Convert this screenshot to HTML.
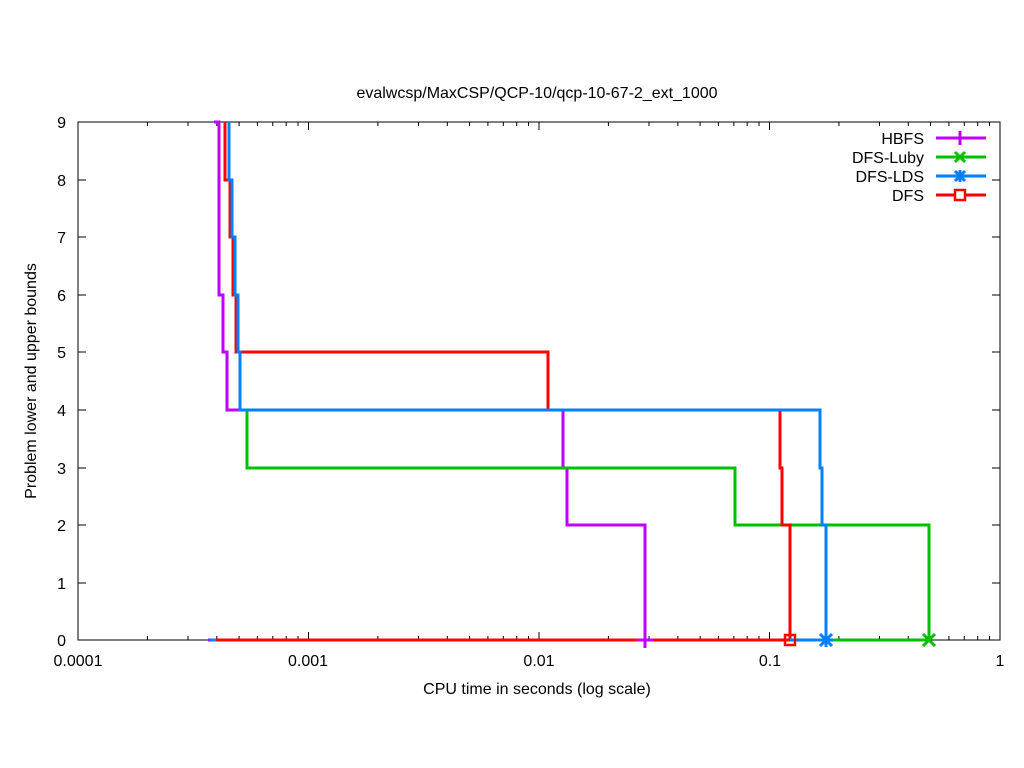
<!DOCTYPE html>
<html><head><style>body{margin:0;background:#fff}svg{display:block}</style></head><body>
<svg width="1024" height="768" xmlns="http://www.w3.org/2000/svg" font-family="Liberation Sans, sans-serif" font-size="16">
<rect width="1024" height="768" fill="#fff"/>
<g stroke="#000" stroke-width="1" fill="none">
<rect x="78" y="122" width="922" height="518"/>
<path d="
M78,640h8M1000,640h-8M78,583h8M1000,583h-8M78,525h8M1000,525h-8M78,468h8M1000,468h-8M78,410h8M1000,410h-8
M78,352h8M1000,352h-8M78,295h8M1000,295h-8M78,237h8M1000,237h-8M78,180h8M1000,180h-8M78,122h8M1000,122h-8
M78,640v-8M78,122v8M308.5,640v-8M308.5,122v8M539,640v-8M539,122v8M769.5,640v-8M769.5,122v8"/>
<path d="
M147.4,640v-4M188,640v-4M216.8,640v-4M239.1,640v-4M257.4,640v-4M272.8,640v-4M286.2,640v-4M298,640v-4
M377.9,640v-4M418.5,640v-4M447.3,640v-4M469.6,640v-4M487.9,640v-4M503.3,640v-4M516.7,640v-4M528.5,640v-4
M608.4,640v-4M649,640v-4M677.8,640v-4M700.1,640v-4M718.4,640v-4M733.8,640v-4M747.2,640v-4M759,640v-4
M838.9,640v-4M879.5,640v-4M908.3,640v-4M930.6,640v-4M948.9,640v-4M964.3,640v-4M977.7,640v-4M989.5,640v-4
M147.4,122v4M188,122v4M216.8,122v4M239.1,122v4M257.4,122v4M272.8,122v4M286.2,122v4M298,122v4
M377.9,122v4M418.5,122v4M447.3,122v4M469.6,122v4M487.9,122v4M503.3,122v4M516.7,122v4M528.5,122v4
M608.4,122v4M649,122v4M677.8,122v4M700.1,122v4M718.4,122v4M733.8,122v4M747.2,122v4M759,122v4
M838.9,122v4M879.5,122v4M908.3,122v4M930.6,122v4M948.9,122v4M964.3,122v4M977.7,122v4M989.5,122v4"/>
</g>
<g text-anchor="end">
<text x="66" y="646">0</text><text x="66" y="589">1</text><text x="66" y="531">2</text><text x="66" y="474">3</text><text x="66" y="416">4</text>
<text x="66" y="358">5</text><text x="66" y="301">6</text><text x="66" y="243">7</text><text x="66" y="186">8</text><text x="66" y="128">9</text>
</g>
<g text-anchor="middle">
<text x="78" y="666">0.0001</text><text x="308" y="666">0.001</text><text x="539" y="666">0.01</text><text x="770" y="666">0.1</text><text x="1000" y="666">1</text>
<text x="537" y="694">CPU time in seconds (log scale)</text>
<text x="537" y="98">evalwcsp/MaxCSP/QCP-10/qcp-10-67-2_ext_1000</text>
<text transform="translate(36,381) rotate(-90)">Problem lower and upper bounds</text>
</g>
<g fill="none" stroke-width="3">
<path stroke="#c000ff" d="M208,640h8M645,640V525H567V468H563V410H227V352H223V295H219V122H214"/>
<path stroke="#00c000" d="M210,640H929V525H735V468H247V410H240V352H236V295H233V237H230V180H228"/>
<path stroke="#ff0000" d="M790,640V525H782V468H780V410H548V352H236V295H233V237H230V180H225V122"/>
<path stroke="#0080ff" d="M210,640H826V525H822V468H820V410H240V352H238V295H235V237H232V180H229V122"/>
<path stroke="#ff0000" d="M216,640H790"/>
</g>
<g stroke-width="3" fill="none">
<path stroke="#c000ff" d="M645,632v16M637,640h16"/>
<path stroke="#00c000" d="M923,634l12,12M923,646l12,-12"/>
<path stroke="#0080ff" d="M820,634l12,12M820,646l12,-12M826,633v14M819,640h14"/>
<rect stroke="#ff0000" x="785" y="635" width="10" height="10" stroke-width="2.5"/>
</g>
<g text-anchor="end">
<text x="924" y="144">HBFS</text><text x="924" y="163">DFS-Luby</text><text x="924" y="182">DFS-LDS</text><text x="924" y="201">DFS</text>
</g>
<g stroke-width="3" fill="none">
<path stroke="#c000ff" d="M936,138h50M960,131v14"/>
<path stroke="#00c000" d="M936,157h50M955,152l10,10M955,162l10,-10"/>
<path stroke="#0080ff" d="M936,176h50M955,171l10,10M955,181l10,-10M960,170v12"/>
<path stroke="#ff0000" d="M936,195h50"/>
<rect stroke="#ff0000" x="955" y="190" width="10" height="10" stroke-width="2.5" fill="#fff"/>
</g>
</svg>
</body></html>
